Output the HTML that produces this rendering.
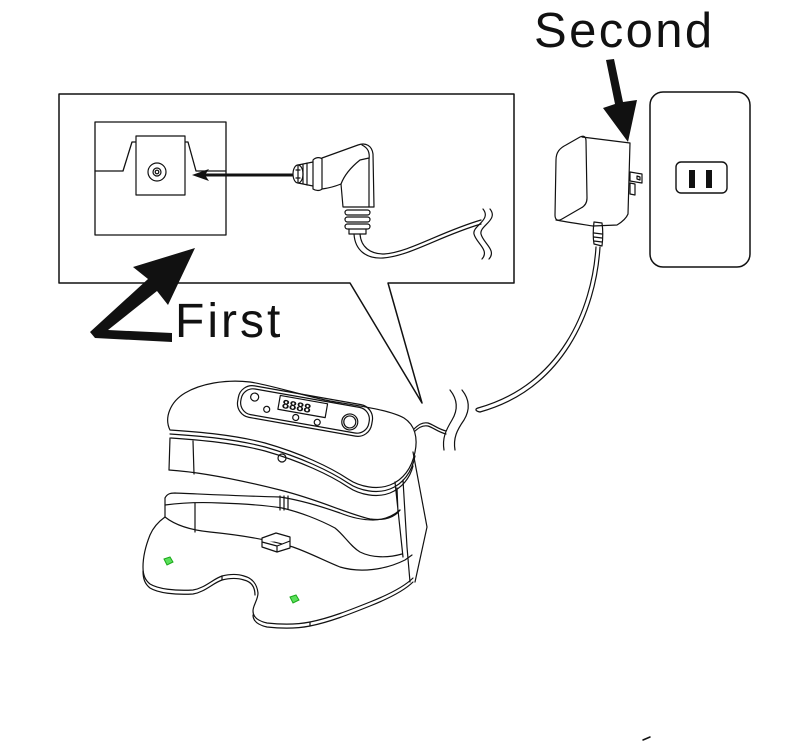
<!DOCTYPE html>
<html><head><meta charset="utf-8"><style>
html,body{margin:0;padding:0;background:#fff;}
svg{display:block;}
</style></head><body>
<svg width="801" height="742" viewBox="0 0 801 742" xmlns="http://www.w3.org/2000/svg">
<rect width="801" height="742" fill="#fff"/>
<g fill="none" stroke="#111" stroke-width="1.2" stroke-linejoin="round" stroke-linecap="round">
<!-- callout -->
<path d="M59,94 L514,94 L514,283 L388,283 L422,403 L350,283 L59,283 Z" stroke-width="1.5" fill="#fff"/>
<rect x="95" y="122" width="131" height="113" stroke-width="1.3"/>
<path d="M95,171 L123,171 L132,142 L136,142 M185,142 L188,142 L196,171 L226,171" stroke-width="1.3"/>
<rect x="136" y="136" width="49" height="59" fill="#fff"/>
<circle cx="157" cy="172" r="9"/>
<circle cx="157" cy="172" r="4"/>
<circle cx="157" cy="172" r="1.8"/>
<!-- arrow to socket -->
<line x1="292" y1="175" x2="205" y2="175" stroke-width="3"/>
<polygon points="192,175 209,169 205,175 209,181" fill="#111" stroke="none"/>
<!-- plug -->
<ellipse cx="298" cy="174" rx="5" ry="9" fill="#fff"/>
<path d="M296,170 L300,170 M296,178 L300,178 M298,166 L298,182"/>
<path d="M298,165 L313,162 M298,183 L313,186 M303,164 L303,184 M307,163 L307,185"/>
<path d="M313,160 C316,157 320,157 322,159 L322,189 C320,191 316,191 313,189 Z" fill="#fff"/>
<path d="M322,158 L358,145 C366,142 372,146 373,154 L374,207 L343,207 L341,184 C336,186 330,188 322,189"/>
<path d="M362,145 C368,148 370,152 369,160 L369,207 M341,184 C344,176 350,168 360,160 L369,158"/>
<rect x="345" y="210" width="25" height="5" rx="2.5"/>
<rect x="345" y="217" width="25" height="5" rx="2.5"/>
<rect x="345" y="224" width="25" height="5" rx="2.5"/>
<path d="M349,229 L349,234 L366,234 L366,229"/>
<path d="M354,234 C355,250 366,259 383,258 C410,256 440,236 481,224"/>
<path d="M360,234 C361,247 370,254 384,254 C410,252 440,232 481,220"/>
<path d="M483,209 C492,220 472,226 474,234 C476,243 490,250 482,259"/>
<path d="M490,209 C499,220 479,226 481,234 C483,243 497,250 489,259"/>
<!-- First arrow -->
<polygon points="195,248 168,305 157,291 108,330 172,333 172,342 95,338 90,332 148,279 133,267" fill="#111" stroke="none"/>
<!-- Second arrow -->
<polygon points="606,60 614,59 623,102 637,100 628,142 603,108 615,104" fill="#111" stroke="none"/>
<!-- adapter -->
<path d="M556,160 C556,152 560,148 566,145 L580,137 C584,135 586,137 586,141 L587,198 C587,203 585,206 581,208 L562,219 C557,222 555,219 555,215 Z"/>
<path d="M582,137 L630,143 L628,214 C626,219 622,222 617,225 L593,226 C580,224 566,222 556,220"/>
<path d="M630,172 L642,174 L642,183 L630,181 Z M637,176 L640,177 L640,180 L637,179 Z M630,183 L635,184 L635,195 L630,194 Z"/>
<path d="M594,222 C593,230 593,238 594,244 L602,246 C603,238 603,230 602,223 Z M594,233 L602,234 M594,237 L602,238 M594,241 L602,242"/>
<path d="M596,247 C592,310 560,385 478,408"/>
<path d="M600,247 C596,312 563,389 480,412"/>
<path d="M478,408 C475,409 475,411 480,412"/>
<!-- outlet -->
<rect x="650" y="92" width="100" height="175" rx="13" stroke-width="1.5"/>
<rect x="676" y="162" width="51" height="31" rx="5" stroke-width="1.4"/>
<rect x="689" y="170" width="6" height="18" fill="#111" stroke="none"/>
<rect x="706" y="170" width="6" height="18" fill="#111" stroke="none"/>
<!-- dock cord + breaks -->
<path d="M413,430 C418,425 422,422 428,423 C434,425 438,429 446,431"/>
<path d="M413,433 C418,428 422,425 428,426 C434,428 438,432 446,434"/>
<path d="M450,390 C458,400 458,410 452,420 C446,430 442,438 444,450"/>
<path d="M462,390 C470,400 470,410 464,420 C457,430 453,438 455,450"/>
<!-- dock: lid -->
<path d="M170,430 C164,418 170,402 185,393 C200,384 225,379 250,382 C275,386 300,395 330,401 C360,406 390,410 404,418 C415,425 418,438 415,452 C412,468 403,480 390,485 C377,490 360,487 348,479 C330,467 300,453 265,443 C235,435 200,432 170,430 Z" fill="#fff"/>
<path d="M170,434 C200,436 235,439 265,447 C300,457 330,471 348,483 C360,491 377,494 390,489 C403,484 412,472 415,456"/>
<path d="M171,438 C200,440 235,443 265,451 C300,461 330,475 348,487 C360,495 377,498 390,493 C402,488 410,478 413,466"/>
<!-- panel -->
<g transform="translate(305,411) rotate(10)">
<rect x="-68" y="-16" width="136" height="32" rx="14"/>
<rect x="-65" y="-13" width="130" height="26" rx="12"/>
<rect x="-27" y="-11" width="48" height="14"/>
<text x="-24" y="1" font-family="Liberation Mono, monospace" font-size="13" font-weight="bold" fill="#111" stroke="none" letter-spacing="-0.5">8888</text>
<circle cx="46" cy="3" r="8"/>
<circle cx="46" cy="3" r="6"/>
<circle cx="-52" cy="-5" r="4"/>
<circle cx="-38" cy="5" r="3"/>
<circle cx="-8" cy="8" r="3"/>
<circle cx="14" cy="9" r="3"/>
</g>
<circle cx="282" cy="458" r="4"/>
<!-- body -->
<path d="M170,438 L169,470 M193,441 L194,474"/>
<path d="M169,470 C200,472 240,480 280,490 C320,500 345,513 370,519 C385,521 395,517 400,510"/>
<path d="M397,488 L398,513 M403,480 L407,547 L410,582 M395,482 L403,557 M413,452 L427,527 L415,582"/>
<!-- waist band -->
<path d="M165,498 C167,494 170,493 175,493 C200,494 240,496 280,497 C300,500 320,506 340,513 C350,517 360,520 373,520 C385,520 393,516 400,510"/>
<path d="M165,505 C180,503 200,502 220,503 C250,504 270,506 282,508 C300,512 320,520 335,528 C345,536 350,546 360,552 C372,558 388,558 402,554"/>
<path d="M280,496 L280,510 M284,496 L284,510 M288,496 L288,509"/>
<path d="M165,498 L165,517 M195,503 L195,532"/>
<!-- base plate -->
<path d="M165,517 C175,525 190,530 210,532 C240,535 270,540 293,547 C310,553 325,561 340,567 C360,573 385,570 405,560 L412,555"/>
<path d="M165,517 C158,522 153,528 150,535 C146,545 143,555 143,567 C143,575 145,580 150,584 C158,589 175,591 193,590 C205,588 213,579 222,576 C230,574 238,574 244,576 C252,578 257,584 258,593 C258,600 253,605 253,611 C253,617 258,621 267,623 C285,625 300,624 310,622 C330,618 350,610 370,602 C390,594 405,586 413,578"/>
<path d="M143,571 C143,579 145,584 150,588 C158,593 175,595 193,594 C205,592 213,583 222,580 C230,578 238,578 244,580 C252,582 255,588 255,595 M253,615 C253,621 258,625 267,627 C285,629 300,628 310,626 C330,622 350,614 370,606 C390,598 405,590 413,582"/>
<path d="M222,576 L222,580 M310,622 L310,626"/>
<!-- front tab -->
<path d="M262,538 L276,533 L290,537 L290,548 L277,552 L262,547 Z M262,542 L277,546 L290,541 M277,546 L277,552" fill="#fff"/>
<!-- tiny mark -->
<path d="M643,740 L650,737" stroke-width="1.5"/>
</g>
<!-- green contacts -->
<g fill="#5be05b" stroke="#1aa81a" stroke-width="1">
<path d="M164,559 L170,557 L173,562 L167,565 Z"/>
<path d="M290,597 L296,595 L299,600 L293,603 Z"/>
</g>
<!-- labels -->
<text x="175" y="337" font-family="Liberation Sans, Arial, sans-serif" font-size="48" fill="#111" letter-spacing="3">First</text>
<text x="534" y="47" font-family="Liberation Sans, Arial, sans-serif" font-size="49" fill="#111" letter-spacing="2.4">Second</text>
</svg>
</body></html>
